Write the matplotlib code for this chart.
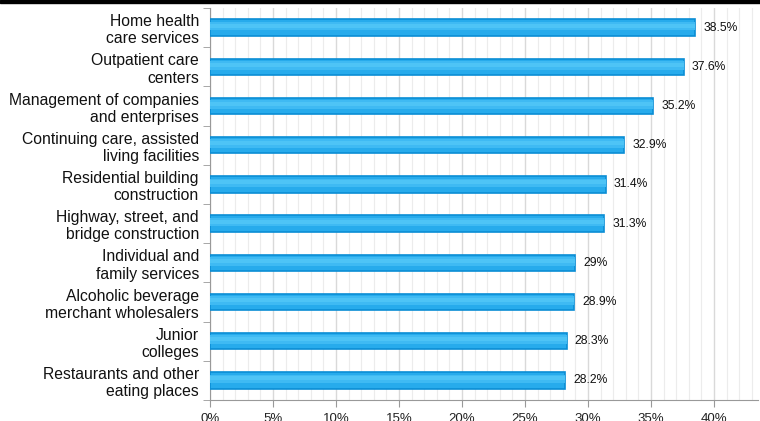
import matplotlib.pyplot as plt
import matplotlib.patches as mpatches
import numpy as np

plt.rcParams['font.family'] = ['Liberation Sans', 'DejaVu Sans']

categorias = ["Home health\ncare services", "Outpatient care\ncenters",
              "Management of companies\nand enterprises",
              "Continuing care, assisted\nliving facilities",
              "Residential building\nconstruction",
              "Highway, street, and\nbridge construction",
              "Individual and\nfamily services",
              "Alcoholic beverage\nmerchant wholesalers",
              "Junior\ncolleges", "Restaurants and other\neating places"]
valores = [38.5, 37.6, 35.2, 32.9, 31.4, 31.3, 29.0, 28.9, 28.3, 28.2]
rotulos = ["38.5%", "37.6%", "35.2%", "32.9%", "31.4%", "31.3%", "29%", "28.9%", "28.3%", "28.2%"]
xticks = [0, 5, 10, 15, 20, 25, 30, 35, 40]

fig = plt.figure(figsize=(7.6, 4.21), dpi=100)
ax = fig.add_axes([210/760, 21/421, 548/760, 392/421])

# faixa preta no topo
fig.patches.append(mpatches.Rectangle((0, 1 - 3/421), 1, 3/421, transform=fig.transFigure,
                                      color='black', zorder=10))

y = np.arange(len(valores))
ax.barh(y, valores, height=0.42, color='#27abec', edgecolor='#0b8dd4', linewidth=1.2, zorder=3)
# brilho suave na parte de cima da barra
ax.barh(y - 0.04, valores, height=0.22, color='#3fbaf3', linewidth=0, zorder=4)
ax.barh(y - 0.05, valores, height=0.1, color='#4ec4f6', linewidth=0, zorder=4)

for i in range(len(valores)):
    ax.text(valores[i] + 0.65, y[i], rotulos[i], va='center', ha='left', fontsize=8.7, color='#111111')

ax.set_xlim(0, 43.5)
ax.set_ylim(len(valores) - 0.5, -0.5)

ax.set_xticks(xticks)
ax.set_xticklabels([str(t) + "%" for t in xticks], fontsize=9.5, color='#222222')
ax.set_xticks(np.arange(0, 44, 1), minor=True)
ax.grid(axis='x', which='major', color='#d9d9d9', linewidth=1, zorder=0)
ax.grid(axis='x', which='minor', color='#ececec', linewidth=0.8, zorder=0)

ax.set_yticks(y)
ax.set_yticklabels(categorias, fontsize=11.3, color='#111111')
ax.set_yticks(np.arange(-0.5, len(valores), 1), minor=True)
ax.tick_params(axis='y', which='major', length=0, pad=8)
ax.tick_params(axis='y', which='minor', length=5, color='#999999')
ax.tick_params(axis='x', which='major', length=5, color='#999999', pad=4)
ax.tick_params(axis='x', which='minor', length=0)

for s in ['top', 'right']:
    ax.spines[s].set_visible(False)
ax.spines['left'].set_color('#999999')
ax.spines['bottom'].set_color('#999999')

plt.savefig("out.png", dpi=100)
